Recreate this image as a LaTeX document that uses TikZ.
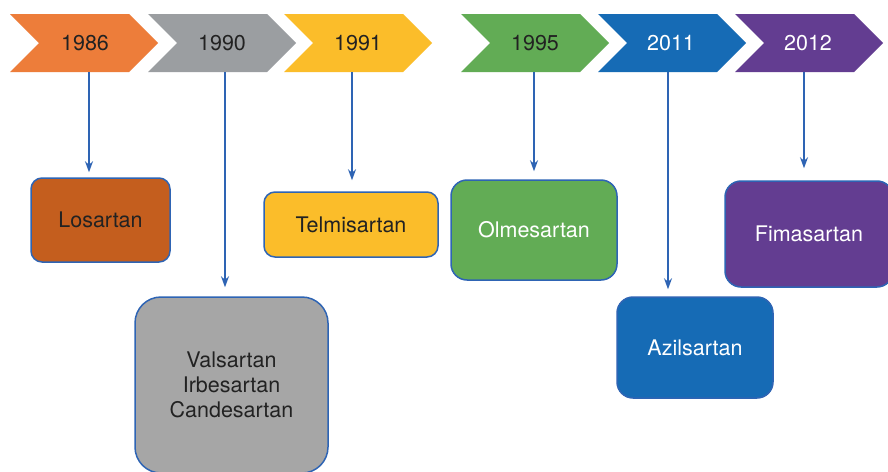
\documentclass[tikz,border=0pt]{standalone}
\usepackage{fontspec}
\setmainfont{TeX Gyre Heros}
\usetikzlibrary{arrows.meta}
\definecolor{cOr}{HTML}{ED7D3A}
\definecolor{cGr}{HTML}{9B9EA1}
\definecolor{cYe}{HTML}{FBBD2A}
\definecolor{cGn}{HTML}{62AC55}
\definecolor{cBl}{HTML}{166BB5}
\definecolor{cPu}{HTML}{633D91}
\definecolor{cLo}{HTML}{C45E1E}
\definecolor{cVa}{HTML}{A6A6A6}
\definecolor{cLine}{HTML}{2E64B4}
\definecolor{cTxt}{HTML}{222222}
\begin{document}
\begin{tikzpicture}[x=1pt,y=-1pt,
  yeartxt/.style={inner sep=0pt,font=\fontsize{21.5}{25}\selectfont},
  drugbox/.style={draw=cLine,line width=1.5pt,inner sep=2pt,align=center,
    font=\fontsize{21.5}{25}\selectfont},
  conn/.style={draw=cLine,line width=1.3pt,-{Stealth[length=11pt,width=8pt]}}]
\useasboundingbox (0,0) rectangle (888,471);
\fill[white] (0,0) rectangle (888,471);
% chevrons
\foreach \L/\c in {10/cOr,148/cGr,284/cYe,461/cGn,598/cBl,735/cPu}{
  \fill[\c] (\L,14) -- ++(119,0) -- ++(29,29) -- ++(-29,29) -- ++(-119,0) -- ++(29,-29) -- cycle;
}
\node[yeartxt,text=cTxt] (y1) at (85,43) {1986};
\node[yeartxt,text=cTxt] (y2) at (222,43) {1990};
\node[yeartxt,text=cTxt] (y3) at (358,43) {1991};
\node[yeartxt,text=cTxt] (y4) at (535,43) {1995};
\node[yeartxt,text=white] (y5) at (671,43) {2011};
\node[yeartxt,text=white] (y6) at (808,43) {2012};
% boxes
\node[drugbox,fill=cLo,text=cTxt,rounded corners=11pt,minimum width=139pt,minimum height=84pt] (b1) at (100.5,220) {Losartan};
\node[drugbox,fill=cVa,text=cTxt,rounded corners=26pt,minimum width=193pt,minimum height=176pt] (b2) at (231.5,385) {Valsartan\\Irbesartan\\Candesartan};
\node[drugbox,fill=cYe,text=cTxt,rounded corners=11pt,minimum width=174pt,minimum height=65pt] (b3) at (351,224.5) {Telmisartan};
\node[drugbox,fill=cGn,text=white,rounded corners=16pt,minimum width=166pt,minimum height=100pt] (b4) at (534,230) {Olmesartan};
\node[drugbox,fill=cBl,text=white,rounded corners=16pt,minimum width=156pt,minimum height=101pt] (b5) at (695,347.5) {Azilsartan};
\node[drugbox,fill=cPu,text=white,rounded corners=16pt,minimum width=168pt,minimum height=106pt] (b6) at (809,234) {Fimasartan};
% connectors
\coordinate (s1) at (89,72);
\coordinate (s2) at (225,72);
\coordinate (s3) at (352,72);
\coordinate (s4) at (534,72);
\coordinate (s5) at (668,72);
\coordinate (s6) at (804,72);
\draw[conn,shorten >=5pt] (s1) -- (s1 |- b1.north);
\draw[conn,shorten >=9pt] (s2) -- (s2 |- b2.north);
\draw[conn,shorten >=11pt] (s3) -- (s3 |- b3.north);
\draw[conn,shorten >=8pt] (s4) -- (s4 |- b4.north);
\draw[conn,shorten >=7pt] (s5) -- (s5 |- b5.north);
\draw[conn,shorten >=12pt] (s6) -- (s6 |- b6.north);
\end{tikzpicture}
\end{document}
